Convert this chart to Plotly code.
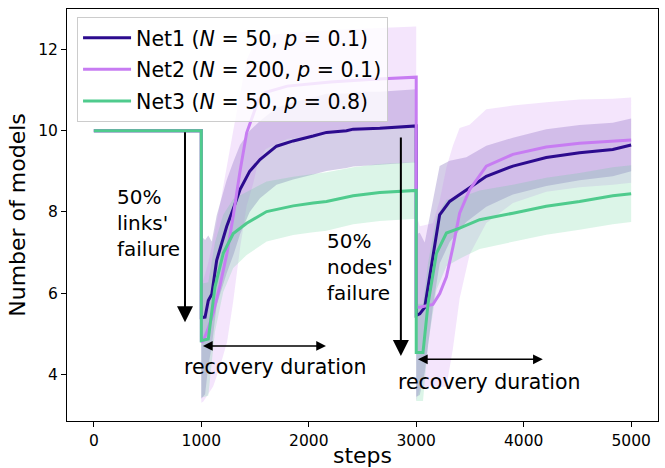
import plotly.graph_objects as go

# ---- data ----
net1_steps = [0, 1000, 1000, 1035, 1065, 1097, 1143, 1236, 1300, 1360, 1450, 1546, 1700, 1855, 2041, 2165, 2351, 2413, 2661, 2970, 3000,
              3000, 3033, 3079, 3156, 3218, 3311, 3466, 3652, 3900, 4210, 4520, 4829, 5000]
net1_mean = [10, 10, 5.4, 5.41, 5.82, 5.97, 6.81, 7.64, 8.1, 8.55, 9.0, 9.29, 9.62, 9.75, 9.87, 9.96, 10.0, 10.04, 10.06, 10.12, 10.12,
             5.45, 5.49, 5.65, 6.98, 7.93, 8.26, 8.55, 8.88, 9.13, 9.34, 9.46, 9.54, 9.65]
net1_spread = [0, 0, 2.0, 1.9, 1.6, 1.3, 1.1, 1.15, 1.15, 1.1, 1.0, 0.95, 0.95, 0.95, 0.95, 0.95, 0.92, 0.92, 0.9, 0.9, 0.9,
               2.0, 2.0, 1.6, 1.3, 1.2, 1.0, 0.8, 0.75, 0.7, 0.7, 0.68, 0.66, 0.65]

net2_steps = [0, 1000, 1000, 1019, 1060, 1110, 1175, 1240, 1297, 1360, 1422, 1483, 1530, 1600, 1800, 2200, 2600, 3000,
              3000, 3033, 3155, 3219, 3281, 3342, 3404, 3497, 3652, 3900, 4210, 4520, 4829, 5000]
net2_mean = [10, 10, 4.8, 4.83, 5.1, 5.5, 6.2, 7.0, 7.9, 9.0, 9.95, 10.4, 10.75, 10.95, 11.1, 11.2, 11.27, 11.32,
             5.65, 5.65, 5.72, 5.99, 6.4, 7.14, 7.97, 8.55, 9.13, 9.42, 9.6, 9.69, 9.73, 9.77]
net2_spread = [0, 0, 1.5, 1.5, 1.6, 1.8, 2.0, 2.2, 2.1, 1.9, 1.8, 1.7, 1.5, 1.4, 1.3, 1.28, 1.25, 1.25,
               2.3, 2.0, 2.0, 2.3, 2.7, 2.5, 2.1, 1.6, 1.4, 1.2, 1.1, 1.08, 1.06, 1.05]

net3_steps = [0, 1000, 1000, 1065, 1127, 1204, 1297, 1422, 1608, 1855, 2041, 2165, 2413, 2661, 3000,
              3000, 3063, 3110, 3188, 3281, 3404, 3590, 3900, 4210, 4520, 4829, 5000]
net3_mean = [10, 10, 4.83, 4.87, 6.15, 6.98, 7.47, 7.72, 8.01, 8.15, 8.22, 8.26, 8.4, 8.48, 8.53,
             4.54, 4.54, 5.74, 6.98, 7.48, 7.6, 7.81, 7.97, 8.14, 8.26, 8.4, 8.45]
net3_spread = [0, 0, 1.4, 1.4, 1.1, 0.95, 0.85, 0.78, 0.74, 0.72, 0.72, 0.72, 0.7, 0.7, 0.7,
               1.2, 1.2, 1.0, 0.9, 0.82, 0.75, 0.72, 0.7, 0.7, 0.7, 0.7, 0.7]

names = ["Net1 (<i>N</i> = 50, <i>p</i> = 0.1)",
         "Net2 (<i>N</i> = 200, <i>p</i> = 0.1)",
         "Net3 (<i>N</i> = 50, <i>p</i> = 0.8)"]
colors = ["#2c0b8e", "#c77cf2", "#4fcb8d"]
fills = ["rgba(44,11,142,0.2)", "rgba(199,124,242,0.2)", "rgba(79,203,141,0.2)"]

x_ticks = [0, 1000, 2000, 3000, 4000, 5000]
y_ticks = [4, 6, 8, 10, 12]

series = [(net1_steps, net1_mean, net1_spread),
          (net2_steps, net2_mean, net2_spread),
          (net3_steps, net3_mean, net3_spread)]

FONT = "DejaVu Sans"
fig = go.Figure()

for (xs, m, s), fc in zip(series, fills):
    upper = [a + b for a, b in zip(m, s)]
    lower = [a - b for a, b in zip(m, s)]
    fig.add_trace(go.Scatter(x=xs + xs[::-1], y=upper + lower[::-1], fill="toself",
                             fillcolor=fc, line=dict(width=0), mode="lines",
                             hoverinfo="skip", showlegend=False))

for i, ((xs, m, s), c, n) in enumerate(zip(series, colors, names)):
    fig.add_trace(go.Scatter(x=xs, y=m, mode="lines", name=n, legendgroup="g%d" % i,
                             line=dict(color=c, width=3)))

ann = []
# vertical arrows
ann.append(dict(x=848, y=5.28, ax=848, ay=10.0, xref="x", yref="y", axref="x", ayref="y",
                text="", showarrow=True, arrowhead=2, arrowsize=1.6, arrowwidth=2, arrowcolor="black"))
ann.append(dict(x=2857, y=4.45, ax=2857, ay=9.87, xref="x", yref="y", axref="x", ayref="y",
                text="", showarrow=True, arrowhead=2, arrowsize=1.6, arrowwidth=2, arrowcolor="black"))
# double arrows
ann.append(dict(x=2160, y=4.70, ax=1001, ay=4.70, xref="x", yref="y", axref="x", ayref="y",
                text="", showarrow=True, arrowhead=2, startarrowhead=2, arrowside="end+start",
                arrowsize=1.3, startarrowsize=1.3, arrowwidth=1.5, arrowcolor="black"))
ann.append(dict(x=4178, y=4.37, ax=3002, ay=4.37, xref="x", yref="y", axref="x", ayref="y",
                text="", showarrow=True, arrowhead=2, startarrowhead=2, arrowside="end+start",
                arrowsize=1.3, startarrowsize=1.3, arrowwidth=1.5, arrowcolor="black"))
# texts
ann.append(dict(x=199, y=7.72, xref="x", yref="y", text="50%<br>links'<br>failure", showarrow=False,
                xanchor="left", yanchor="middle", align="left", font=dict(family=FONT, size=20, color="black")))
ann.append(dict(x=2150, y=6.65, xref="x", yref="y", text="50%<br>nodes'<br>failure", showarrow=False,
                xanchor="left", yanchor="middle", align="left", font=dict(family=FONT, size=20, color="black")))
ann.append(dict(x=1686, y=4.17, xref="x", yref="y", text="recovery duration", showarrow=False,
                xanchor="center", yanchor="middle", font=dict(family=FONT, size=20.5, color="black")))
ann.append(dict(x=3686, y=3.81, xref="x", yref="y", text="recovery duration", showarrow=False,
                xanchor="center", yanchor="middle", font=dict(family=FONT, size=20.5, color="black")))

fig.update_layout(
    width=665, height=468,
    margin=dict(l=67, r=7, t=9, b=47),
    paper_bgcolor="white", plot_bgcolor="white",
    font=dict(family=FONT, color="black"),
    annotations=ann,
    legend=dict(x=0.017, y=0.981, xanchor="left", yanchor="top",
                bgcolor="rgba(255,255,255,0.8)", bordercolor="#cccccc", borderwidth=1,
                tracegroupgap=2, itemwidth=48,
                font=dict(family=FONT, size=20.5, color="black")),
    xaxis=dict(range=[-250, 5250], tickvals=x_ticks, ticktext=[str(v) for v in x_ticks],
               showgrid=False, zeroline=False, showline=True, linecolor="black", linewidth=1,
               mirror=True, ticks="outside", ticklen=5, tickcolor="black",
               tickfont=dict(family=FONT, size=15.5),
               title=dict(text="steps", font=dict(family=FONT, size=22), standoff=2),
               automargin=False),
    yaxis=dict(range=[2.85, 13.0], tickvals=y_ticks, ticktext=[str(v) for v in y_ticks],
               showgrid=False, zeroline=False, showline=True, linecolor="black", linewidth=1,
               mirror=True, ticks="outside", ticklen=5, tickcolor="black",
               tickfont=dict(family=FONT, size=15.5),
               title=dict(text="Number of models", font=dict(family=FONT, size=22), standoff=6),
               automargin=False),
)

fig.write_html("out.html")
